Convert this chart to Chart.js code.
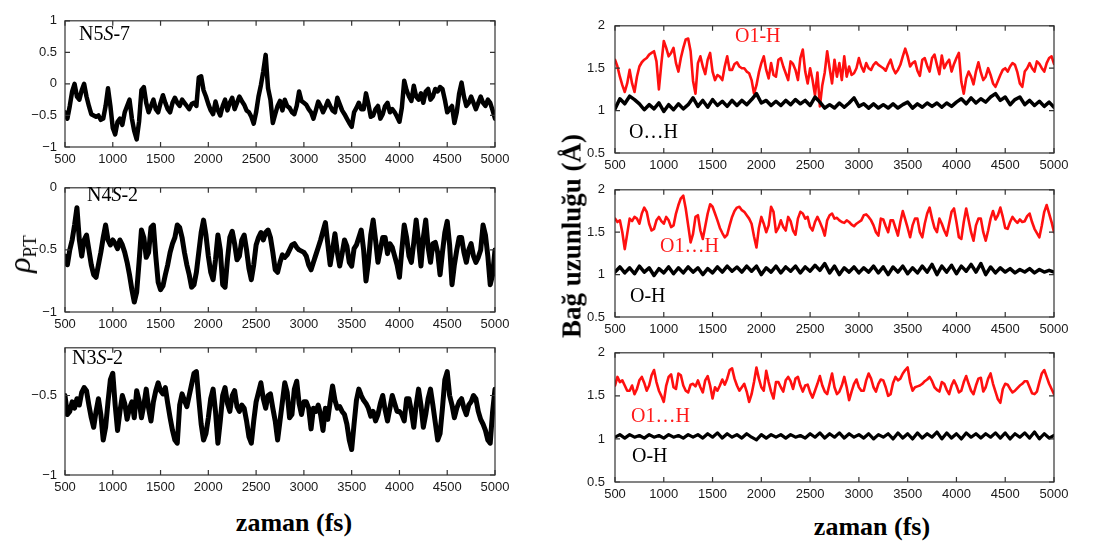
<!DOCTYPE html>
<html lang="tr">
<head>
<meta charset="UTF-8">
<title>ρPT ve bağ uzunlukları</title>
<script src="https://cdn.jsdelivr.net/npm/chart.js"></script>
<style>
  body { margin: 0; background: #fff; }
  #fig { position: relative; width: 1104px; height: 545px; background: #fff; overflow: hidden; }
  #fig canvas { position: absolute; }
  .lbl { position: absolute; font-family: "Liberation Serif", "Times New Roman", serif; font-size: 20px; white-space: nowrap; line-height: 1; }
  .red { color: #ff1a1a; }
  .axt { position: absolute; font-family: "Liberation Serif", "Times New Roman", serif; font-weight: bold; font-size: 26px; white-space: nowrap; line-height: 1; transform: translate(-50%, -50%); }
  .rot { transform: translate(-50%, -50%) rotate(-90deg); }
</style>
</head>
<body>
<div id="fig">
  <canvas id="l1"></canvas>
  <canvas id="l2"></canvas>
  <canvas id="l3"></canvas>
  <canvas id="r1"></canvas>
  <canvas id="r2"></canvas>
  <canvas id="r3"></canvas>

  <div class="lbl" style="left:79px;top:23px">N5<i>S</i>-7</div>
  <div class="lbl" style="left:87px;top:184px">N4<i>S</i>-2</div>
  <div class="lbl" style="left:72px;top:347px">N3<i>S</i>-2</div>

  <div class="lbl red" style="left:735px;top:25px">O1-H</div>
  <div class="lbl" style="left:629px;top:121px">O…H</div>
  <div class="lbl red" style="left:660px;top:235px">O1…H</div>
  <div class="lbl" style="left:630px;top:285px">O-H</div>
  <div class="lbl red" style="left:631px;top:405px">O1…H</div>
  <div class="lbl" style="left:632px;top:445px">O-H</div>

  <div class="axt" style="left:294px;top:523px">zaman (fs)</div>
  <div class="axt" style="left:872px;top:527px">zaman (fs)</div>
  <div class="axt rot" style="left:572px;top:236px;font-size:27px">Bağ uzunluğu (Å)</div>
  <div class="axt rot" style="left:19px;top:254px;font-weight:normal"><i style="font-size:32px">ρ</i><span style="font-size:19px;position:relative;top:6px">PT</span></div>
</div>

<script>
// zaman ekseni: 500 fs'den başlayan düzenli örnekleme
const T0 = 500;
const STEP = 25;      // ρPT ve O1-H serileri
const STEP_OH = 50;   // O-H serileri
const xTicks = [500, 1000, 1500, 2000, 2500, 3000, 3500, 4000, 4500, 5000];

// ρPT (sol panel), her satır 500 fs
const n5s7 = [
  -0.45,-0.55,-0.35,-0.12, 0.0,-0.2,-0.25,-0.1, 0.0,-0.2,-0.35,-0.48, -0.5,-0.52,-0.5,-0.57, -0.55,-0.35,-0.07,-0.35,
  -0.7,-0.8,-0.6,-0.55, -0.65,-0.45,-0.35,-0.25, -0.55,-0.75,-0.88,-0.6, -0.1,-0.05,-0.3,-0.45, -0.35,-0.25,-0.4,-0.45,
  -0.3,-0.18,-0.3,-0.4, -0.45,-0.3,-0.22,-0.3, -0.35,-0.25,-0.3,-0.35, -0.4,-0.32,-0.3,-0.35, 0.1,0.12,-0.1,-0.2,
  -0.32,-0.42,-0.48,-0.28, -0.42,-0.5,-0.35,-0.25, -0.42,-0.3,-0.22,-0.4, -0.3,-0.2,-0.27,-0.33, -0.42,-0.45,-0.52,-0.63,
  -0.45,-0.2,-0.02,0.2, 0.46,-0.07,-0.25,-0.62, -0.48,-0.35,-0.27,-0.42, -0.25,-0.35,-0.38,-0.45, -0.48,-0.35,-0.12,-0.27,
  -0.3,-0.33,-0.4,-0.45, -0.55,-0.42,-0.28,-0.35, -0.45,-0.37,-0.27,-0.35, -0.42,-0.45,-0.22,-0.32, -0.42,-0.48,-0.55,-0.62,
  -0.68,-0.45,-0.38,-0.3, -0.4,-0.4,-0.15,-0.32, -0.52,-0.5,-0.4,-0.35, -0.55,-0.48,-0.35,-0.3, -0.45,-0.4,-0.45,-0.52,
  -0.6,-0.38,0.05,-0.1, -0.2,-0.27,-0.03,-0.2, -0.25,-0.15,-0.3,-0.12, -0.08,-0.25,-0.2,-0.08, -0.12,-0.05,-0.08,-0.25,
  -0.45,-0.4,-0.35,-0.62, -0.45,-0.15,0.02,-0.2, -0.35,-0.3,-0.2,-0.3, -0.4,-0.3,-0.2,-0.3, -0.35,-0.25,-0.3,-0.42,
  -0.55
];
const n4s2 = [
  -0.55,-0.62,-0.5,-0.42, -0.3,-0.16,-0.42,-0.55, -0.42,-0.38,-0.5,-0.62, -0.7,-0.72,-0.62,-0.52, -0.4,-0.3,-0.42,-0.46,
  -0.42,-0.45,-0.49,-0.42, -0.46,-0.52,-0.6,-0.7, -0.82,-0.92,-0.84,-0.6, -0.34,-0.4,-0.56,-0.52, -0.32,-0.3,-0.55,-0.76,
  -0.82,-0.79,-0.7,-0.62, -0.52,-0.45,-0.4,-0.3, -0.32,-0.4,-0.52,-0.62, -0.7,-0.8,-0.78,-0.68, -0.52,-0.36,-0.26,-0.38,
  -0.55,-0.68,-0.74,-0.58, -0.38,-0.5,-0.78,-0.8, -0.58,-0.4,-0.35,-0.45, -0.58,-0.55,-0.42,-0.38, -0.5,-0.65,-0.74,-0.62,
  -0.46,-0.4,-0.36,-0.42, -0.36,-0.34,-0.4,-0.52, -0.66,-0.68,-0.6,-0.54, -0.56,-0.54,-0.5,-0.46, -0.45,-0.48,-0.5,-0.51,
  -0.52,-0.55,-0.62,-0.66, -0.6,-0.54,-0.48,-0.42, -0.35,-0.28,-0.45,-0.62, -0.5,-0.37,-0.52,-0.63, -0.53,-0.42,-0.47,-0.6,
  -0.63,-0.49,-0.46,-0.4, -0.34,-0.5,-0.75,-0.6, -0.38,-0.26,-0.42,-0.6, -0.5,-0.4,-0.4,-0.53, -0.45,-0.48,-0.55,-0.62,
  -0.72,-0.5,-0.3,-0.4, -0.55,-0.6,-0.44,-0.26, -0.43,-0.63,-0.4,-0.26, -0.48,-0.6,-0.45,-0.44, -0.52,-0.7,-0.52,-0.36,
  -0.27,-0.46,-0.78,-0.62, -0.5,-0.4,-0.4,-0.52, -0.6,-0.5,-0.45,-0.55, -0.6,-0.56,-0.5,-0.3, -0.38,-0.55,-0.78,-0.7,
  -0.5
];
const n3s2 = [
  -0.5,-0.62,-0.6,-0.54, -0.58,-0.52,-0.56,-0.48, -0.45,-0.47,-0.56,-0.64, -0.7,-0.6,-0.52,-0.62, -0.78,-0.7,-0.54,-0.4,
  -0.36,-0.56,-0.72,-0.6, -0.5,-0.55,-0.65,-0.58, -0.54,-0.64,-0.47,-0.53, -0.64,-0.56,-0.46,-0.58, -0.66,-0.54,-0.47,-0.42,
  -0.47,-0.49,-0.45,-0.55, -0.64,-0.72,-0.78,-0.8, -0.56,-0.49,-0.53,-0.57, -0.5,-0.43,-0.36,-0.35, -0.52,-0.68,-0.78,-0.74,
  -0.64,-0.52,-0.46,-0.6, -0.8,-0.66,-0.5,-0.45, -0.55,-0.6,-0.5,-0.47, -0.57,-0.6,-0.56,-0.58, -0.66,-0.76,-0.8,-0.66,
  -0.54,-0.48,-0.42,-0.52, -0.58,-0.5,-0.49,-0.58, -0.66,-0.78,-0.66,-0.54, -0.42,-0.48,-0.64,-0.62, -0.46,-0.41,-0.55,-0.62,
  -0.54,-0.54,-0.58,-0.71, -0.58,-0.6,-0.56,-0.62, -0.72,-0.58,-0.65,-0.54, -0.44,-0.53,-0.58,-0.57, -0.6,-0.62,-0.68,-0.78,
  -0.84,-0.68,-0.53,-0.46, -0.5,-0.53,-0.55,-0.58, -0.63,-0.6,-0.66,-0.62, -0.55,-0.5,-0.59,-0.66, -0.58,-0.5,-0.55,-0.6,
  -0.6,-0.62,-0.66,-0.52, -0.52,-0.6,-0.7,-0.56, -0.46,-0.56,-0.7,-0.62, -0.52,-0.46,-0.56,-0.67, -0.78,-0.74,-0.58,-0.4,
  -0.35,-0.5,-0.56,-0.64, -0.58,-0.54,-0.52,-0.58, -0.62,-0.56,-0.54,-0.5, -0.52,-0.6,-0.65,-0.68, -0.72,-0.78,-0.8,-0.6,
  -0.46
];

// bağ uzunlukları (Å), sağ panel
const o1h_1 = [
  1.6,1.52,1.4,1.3, 1.22,1.32,1.48,1.32, 1.22,1.4,1.52,1.57, 1.6,1.62,1.66,1.68, 1.7,1.58,1.25,1.55,
  1.82,1.74,1.64,1.68, 1.74,1.56,1.46,1.62, 1.74,1.84,1.85,1.7, 1.35,1.2,1.56,1.64, 1.52,1.43,1.6,1.68,
  1.46,1.36,1.42,1.4, 1.36,1.52,1.64,1.48, 1.48,1.55,1.57,1.52, 1.5,1.5,1.46,1.44, 1.36,1.2,1.3,1.45,
  1.56,1.64,1.48,1.38, 1.56,1.42,1.4,1.6, 1.62,1.52,1.44,1.36, 1.58,1.55,1.48,1.36, 1.62,1.72,1.46,1.32,
  1.5,1.36,1.18,1.45, 1.05,1.3,1.45,1.7, 1.5,1.32,1.6,1.4, 1.56,1.36,1.64,1.4, 1.52,1.42,1.44,1.5,
  1.62,1.52,1.46,1.56, 1.5,1.48,1.54,1.57, 1.54,1.52,1.5,1.47, 1.54,1.6,1.5,1.44, 1.48,1.54,1.64,1.73,
  1.64,1.52,1.56,1.58, 1.47,1.41,1.6,1.62, 1.53,1.46,1.62,1.66, 1.54,1.43,1.65,1.5, 1.56,1.6,1.46,1.55,
  1.62,1.68,1.34,1.2, 1.38,1.46,1.4,1.31, 1.46,1.57,1.45,1.36, 1.4,1.5,1.42,1.32, 1.28,1.35,1.42,1.48,
  1.5,1.46,1.52,1.56, 1.54,1.45,1.32,1.28, 1.46,1.5,1.56,1.5, 1.46,1.58,1.55,1.5, 1.46,1.56,1.62,1.64,
  1.55
];
const oh_1 = [
  1.02,1.14,1.08,1.17,1.13,1.08,1.01,1.07,1.02,1.09,
  0.99,1.07,1.01,1.08,1.02,1.07,1.15,1.05,1.12,1.04,
  1.13,1.06,1.11,1.05,1.12,1.06,1.12,1.07,1.13,1.2,
  1.09,1.12,1.06,1.11,1.06,1.12,1.07,1.13,1.08,1.12,
  1.06,1.16,1.1,1.03,1.07,1.03,1.09,1.04,1.09,1.15,
  1.05,1.08,1.03,1.08,1.03,1.07,1.03,1.08,1.03,1.07,
  1.1,1.03,1.08,1.04,1.09,1.05,1.09,1.04,1.09,1.05,
  1.1,1.14,1.08,1.15,1.09,1.14,1.1,1.16,1.2,1.12,
  1.16,1.07,1.13,1.16,1.07,1.12,1.06,1.11,1.05,1.1,
  1.04
];
const o1h_2 = [
  1.66,1.62,1.64,1.5, 1.3,1.48,1.66,1.63, 1.68,1.66,1.6,1.72, 1.79,1.74,1.6,1.52, 1.54,1.64,1.68,1.63,
  1.6,1.68,1.64,1.56, 1.58,1.72,1.82,1.9, 1.93,1.78,1.58,1.38, 1.48,1.68,1.7,1.52, 1.42,1.57,1.72,1.83,
  1.8,1.72,1.64,1.55, 1.49,1.44,1.47,1.58, 1.68,1.75,1.79,1.8, 1.76,1.74,1.7,1.66, 1.6,1.45,1.32,1.55,
  1.68,1.6,1.5,1.58, 1.8,1.74,1.5,1.55, 1.64,1.56,1.52,1.68, 1.63,1.52,1.47,1.66, 1.74,1.72,1.66,1.68,
  1.56,1.52,1.62,1.68, 1.62,1.55,1.46,1.64, 1.7,1.72,1.66,1.67, 1.64,1.62,1.61,1.64, 1.62,1.59,1.57,1.6,
  1.62,1.64,1.7,1.71, 1.68,1.64,1.58,1.5, 1.46,1.66,1.65,1.57, 1.5,1.64,1.64,1.55, 1.46,1.62,1.75,1.65,
  1.55,1.44,1.58,1.66, 1.66,1.5,1.44,1.6, 1.72,1.79,1.66,1.55, 1.5,1.66,1.6,1.52, 1.46,1.6,1.74,1.78,
  1.62,1.44,1.42,1.62, 1.78,1.64,1.5,1.4, 1.58,1.66,1.66,1.5, 1.4,1.52,1.66,1.75, 1.65,1.7,1.79,1.68,
  1.55,1.54,1.62,1.68, 1.64,1.61,1.65,1.62, 1.63,1.69,1.72,1.62, 1.54,1.49,1.44,1.58, 1.74,1.82,1.72,1.62,
  1.5
];
const oh_2 = [
  1.03,1.09,1.02,1.08,1.01,1.1,1.03,1.08,0.99,1.07,
  1.02,1.09,1.01,1.08,1.02,1.09,1.03,1.08,1.0,1.07,
  1.02,1.09,1.03,1.1,1.04,1.09,1.03,1.1,1.04,1.1,
  1.0,1.08,1.03,1.1,1.02,1.09,1.04,1.1,1.02,1.09,
  1.04,1.11,1.05,1.13,1.02,1.1,1.0,1.08,1.03,1.09,
  1.02,1.08,1.03,1.1,1.02,1.09,1.0,1.09,1.03,1.1,
  1.01,1.08,1.02,1.1,1.03,1.12,1.0,1.1,1.03,1.11,
  1.01,1.1,1.04,1.12,1.03,1.13,1.0,1.09,1.02,1.08,
  1.03,1.07,1.02,1.06,1.03,1.07,1.02,1.06,1.03,1.05,
  1.03
];
const o1h_3 = [
  1.62,1.72,1.66,1.68, 1.62,1.56,1.56,1.62, 1.52,1.58,1.68,1.72, 1.65,1.56,1.62,1.74, 1.8,1.66,1.56,1.5,
  1.43,1.62,1.72,1.75, 1.6,1.58,1.76,1.74, 1.62,1.56,1.54,1.63, 1.64,1.61,1.68,1.6, 1.54,1.68,1.73,1.62,
  1.47,1.6,1.56,1.62, 1.69,1.63,1.7,1.8, 1.82,1.7,1.62,1.56, 1.6,1.64,1.55,1.43, 1.52,1.66,1.83,1.7,
  1.6,1.56,1.79,1.66, 1.55,1.47,1.66,1.66, 1.6,1.55,1.68,1.72, 1.67,1.58,1.7,1.72, 1.62,1.55,1.62,1.63,
  1.54,1.48,1.56,1.64, 1.73,1.62,1.55,1.52, 1.64,1.76,1.6,1.52, 1.55,1.62,1.72,1.6, 1.45,1.55,1.64,1.69,
  1.6,1.56,1.56,1.68, 1.76,1.7,1.6,1.55, 1.64,1.69,1.68,1.6, 1.5,1.52,1.65,1.72, 1.68,1.7,1.76,1.8,
  1.83,1.66,1.56,1.6, 1.61,1.62,1.64,1.67, 1.69,1.72,1.67,1.6, 1.57,1.55,1.66,1.64, 1.57,1.52,1.62,1.68,
  1.62,1.54,1.56,1.66, 1.73,1.64,1.56,1.52, 1.62,1.7,1.71,1.55, 1.6,1.7,1.76,1.64, 1.55,1.46,1.42,1.58,
  1.64,1.63,1.58,1.54, 1.56,1.59,1.62,1.64, 1.67,1.67,1.6,1.53, 1.52,1.55,1.66,1.76, 1.8,1.72,1.64,1.58,
  1.52
];
const oh_3 = [
  1.02,1.05,1.01,1.05,1.02,1.04,1.01,1.05,1.02,1.04,
  1.01,1.05,1.02,1.04,1.01,1.05,1.02,1.05,1.01,1.06,
  1.02,1.07,1.01,1.06,1.02,1.05,1.01,1.06,1.02,0.99,
  1.05,1.01,1.05,1.02,1.05,1.01,1.05,1.02,1.04,1.01,
  1.06,1.02,1.07,1.01,1.06,1.02,1.07,1.01,1.06,1.02,
  1.05,1.01,1.06,1.0,1.05,1.02,1.06,1.0,1.07,1.01,
  1.06,1.0,1.07,1.01,1.06,1.02,1.08,1.0,1.07,1.01,
  1.06,1.0,1.07,1.02,1.06,1.01,1.06,1.02,1.07,1.01,
  1.07,1.0,1.06,1.02,1.07,1.01,1.08,1.0,1.06,1.01,
  1.04
];

const rhoTicks1 = [-1, -0.5, 0, 0.5, 1];
const rhoTicks2 = [-1, -0.5, 0];
const rhoTicks3 = [-1, -0.5];
const bondTicks = [0.5, 1, 1.5, 2];

const BLACK = '#000';
const RED = '#ff1010';

// panel yerleşimi: çizim alanı kutusu [sol, üst, genişlik, yükseklik]
const AX_W = 50, AX_H = 24, PAD_T = 10, PAD_R = 24, TICK = 5;
const panels = [
  { id: 'l1', box: [65, 15, 430, 132], y: [-1, 1], ticks: rhoTicks1, gap: 8,
    sets: [{ v: n5s7, step: STEP, c: BLACK, w: 4.5 }] },
  { id: 'l2', box: [65, 182, 430, 130], y: [-1, 0], ticks: rhoTicks2, gap: 8,
    sets: [{ v: n4s2, step: STEP, c: BLACK, w: 5 }] },
  { id: 'l3', box: [65, 342, 430, 133], y: [-1, -0.2], ticks: rhoTicks3, gap: 8,
    sets: [{ v: n3s2, step: STEP, c: BLACK, w: 5 }] },
  { id: 'r1', box: [615, 18, 439, 135], y: [0.5, 2], ticks: bondTicks, gap: 10,
    sets: [{ v: oh_1, step: STEP_OH, c: BLACK, w: 3.5 }, { v: o1h_1, step: STEP, c: RED, w: 2.6 }] },
  { id: 'r2', box: [615, 182, 439, 135], y: [0.5, 2], ticks: bondTicks, gap: 10,
    sets: [{ v: oh_2, step: STEP_OH, c: BLACK, w: 3.5 }, { v: o1h_2, step: STEP, c: RED, w: 2.6 }] },
  { id: 'r3', box: [615, 345, 439, 137], y: [0.5, 2], ticks: bondTicks, gap: 10,
    sets: [{ v: oh_3, step: STEP_OH, c: BLACK, w: 3.2 }, { v: o1h_3, step: STEP, c: RED, w: 2.6 }] }
];

const fmt = v => (v < 0 ? '\u2212' + Math.abs(v) : String(v));
const pts = (vals, step) => vals.map((v, i) => ({ x: T0 + i * step, y: v }));

// çerçeve ve içe dönük çentikler
const frame = {
  id: 'frame',
  afterDatasetsDraw(chart) {
    const { ctx, chartArea: a, scales: { x, y } } = chart;
    ctx.save();
    ctx.strokeStyle = '#333';
    ctx.lineWidth = 1.2;
    ctx.strokeRect(a.left, a.top, a.right - a.left, a.bottom - a.top);
    ctx.beginPath();
    x.ticks.forEach(t => {
      const px = x.getPixelForValue(t.value);
      ctx.moveTo(px, a.bottom); ctx.lineTo(px, a.bottom - TICK);
      ctx.moveTo(px, a.top); ctx.lineTo(px, a.top + TICK);
    });
    y.ticks.forEach(t => {
      const py = y.getPixelForValue(t.value);
      ctx.moveTo(a.left, py); ctx.lineTo(a.left + TICK, py);
      ctx.moveTo(a.right, py); ctx.lineTo(a.right - TICK, py);
    });
    ctx.stroke();
    ctx.restore();
  }
};

const tickFont = { family: '"Liberation Sans", Arial, sans-serif', size: 13 };

panels.forEach(p => {
  const [bx, by, bw, bh] = p.box;
  const cv = document.getElementById(p.id);
  cv.width = bw + AX_W + PAD_R;
  cv.height = bh + PAD_T + AX_H;
  cv.style.left = (bx - AX_W) + 'px';
  cv.style.top = (by - PAD_T) + 'px';

  new Chart(cv, {
    type: 'line',
    data: {
      datasets: p.sets.map(s => ({
        data: pts(s.v, s.step),
        borderColor: s.c,
        borderWidth: s.w,
        borderJoinStyle: 'round',
        borderCapStyle: 'round',
        pointRadius: 0,
        tension: 0,
        fill: false
      }))
    },
    options: {
      responsive: false,
      animation: false,
      events: [],
      layout: { padding: { top: PAD_T, right: PAD_R, left: 0, bottom: 0 } },
      plugins: { legend: { display: false }, tooltip: { enabled: false } },
      scales: {
        x: {
          type: 'linear', min: 500, max: 5000,
          afterBuildTicks: s => { s.ticks = xTicks.map(v => ({ value: v })); },
          afterFit: s => { s.height = AX_H; },
          grid: { display: false, drawTicks: false },
          border: { display: false },
          ticks: { font: tickFont, color: '#1a1a1a', padding: 5, maxRotation: 0, autoSkip: false, callback: v => fmt(v) }
        },
        y: {
          type: 'linear', min: p.y[0], max: p.y[1],
          afterBuildTicks: s => { s.ticks = p.ticks.map(v => ({ value: v })); },
          afterFit: s => { s.width = AX_W; },
          grid: { display: false, drawTicks: false },
          border: { display: false },
          ticks: { font: tickFont, color: '#1a1a1a', padding: p.gap, autoSkip: false, callback: v => fmt(v) }
        }
      }
    },
    plugins: [frame]
  });
});
</script>
</body>
</html>
